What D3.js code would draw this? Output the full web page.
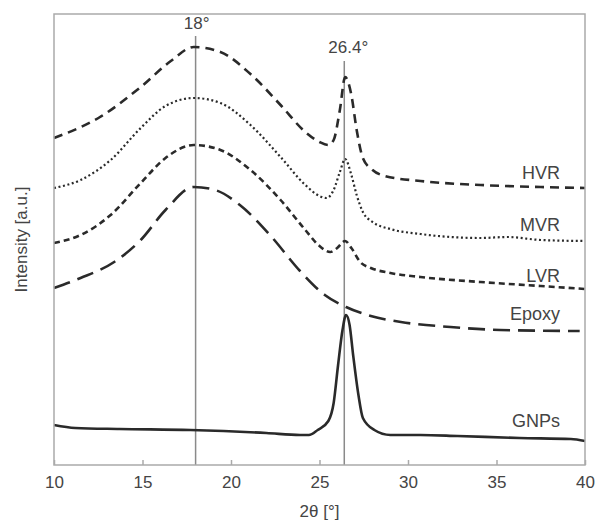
<!DOCTYPE html>
<html>
<head>
<meta charset="utf-8">
<script src="https://cdn.jsdelivr.net/npm/d3@7"></script>
<style>
  html, body { margin: 0; padding: 0; background: #fff; }
  svg { display: block; }
  text { font-family: "Liberation Sans", Arial, sans-serif; fill: #444; }
</style>
</head>
<body>
<svg id="chart" width="596" height="524"></svg>
<script>
// ---- data (2θ in degrees, intensity in arbitrary units) ----
const hvr = [[10,327],[12.6,348],[14.9,378],[16.6,404],[17.9,418],[19.4,413],[21.1,391],[22.8,360],[24.2,333],[25.0,323],[25.5,320],[25.8,325],[26.15,355],[26.45,388],[26.8,370],[27.1,335],[27.45,307],[28.0,295],[28.7,289],[30.7,284],[34.1,280],[37.5,278],[40,277]];
const mvr = [[10,277],[11.5,285],[13.2,305],[14.9,337],[16.3,359],[17.9,367],[19.4,362],[21.1,340],[22.8,308],[24.2,280],[25.0,269],[25.4,267],[25.8,275],[26.15,293],[26.45,306],[26.8,290],[27.1,270],[27.45,253],[28.0,243],[29.0,236],[30.7,231],[34.1,227],[35.6,228],[37.5,225],[40,224]];
const lvr = [[10,222],[11.5,230],[13.2,250],[14.9,282],[16.3,307],[17.9,320],[19.4,315],[21.1,295],[22.8,265],[24.2,235],[25.0,219],[25.6,213],[26.0,217],[26.45,224],[26.8,217],[27.3,203],[27.9,197],[29.0,192],[30.7,188],[34.1,183],[37.5,179],[40,176]];
const epoxy = [[10,177],[11.5,187],[13.4,203],[14.9,225],[16.3,255],[17.9,278],[19.1,275],[20.5,260],[22.2,230],[23.9,194],[25.3,170],[26.5,158],[27.9,149],[29.6,143],[32.4,138],[35.2,135],[39.7,134]];
const gnps = [[10,40],[11.2,37],[13.7,36],[17.7,35],[22.0,32],[23.9,30],[24.4,30],[24.9,35],[25.5,44],[25.8,62],[26.05,100],[26.3,135],[26.5,150],[26.7,140],[26.9,110],[27.2,70],[27.45,47],[28.1,35],[29.0,30],[30.7,30],[32.8,29],[36.3,27],[39.2,26],[40,24]];

const seriesNames = ["HVR","MVR","LVR","Epoxy","GNPs"];
const seriesData = [hvr, mvr, lvr, epoxy, gnps];
const labelLevels = [286, 234, 183, 145, 38];   // intensity level of each series label
const markerAngles = [18, 26.4];
const markerLabels = ["18°", "26.4°"];
const xTicks = [10, 15, 20, 25, 30, 35, 40];

// ---- layout ----
const svg = d3.select("#chart");
const L = 54, R = 585, T = 14, B = 465;
const x = d3.scaleLinear().domain([10, 40]).range([L, R]);
const y = d3.scaleLinear().domain([0, 451]).range([B, T]);

const dashes = ["9,6", "2,2.6", "6,4", "17,8", null];
const widths = [2.6, 2.2, 2.6, 2.6, 2.6];

// marker lines
const markerTops = [36, 61];
markerAngles.forEach((a, i) => {
  svg.append("line")
    .attr("x1", x(a)).attr("x2", x(a))
    .attr("y1", markerTops[i]).attr("y2", B)
    .attr("stroke", "#8a8a8a").attr("stroke-width", 1.5);
});
svg.append("text").attr("x", x(18) + 1).attr("y", 29)
  .attr("text-anchor", "middle").attr("font-size", 17).text(markerLabels[0]);
svg.append("text").attr("x", x(26.4) + 4).attr("y", 53)
  .attr("text-anchor", "middle").attr("font-size", 17).text(markerLabels[1]);

// curves
const line = d3.line().x(d => x(d[0])).y(d => y(d[1])).curve(d3.curveMonotoneX);
seriesData.forEach((s, i) => {
  svg.append("path")
    .attr("d", line(s))
    .attr("fill", "none")
    .attr("stroke", "#2a2a2a")
    .attr("stroke-width", widths[i])
    .attr("stroke-dasharray", dashes[i])
    .attr("stroke-linejoin", "round");
});

// frame
svg.append("rect").attr("x", L).attr("y", T).attr("width", R - L).attr("height", B - T)
  .attr("fill", "none").attr("stroke", "#aaa").attr("stroke-width", 1.5);

// x axis (ticks pointing inward)
const xAxis = d3.axisBottom(x).tickValues(xTicks).tickSize(-5).tickPadding(11).tickFormat(d3.format("d"));
const gx = svg.append("g").attr("transform", `translate(0,${B})`).call(xAxis);
gx.select(".domain").remove();
gx.selectAll(".tick line").attr("stroke", "#aaa").attr("stroke-width", 1.5);
gx.selectAll(".tick text").attr("font-size", 17).attr("fill", "#444")
  .attr("font-family", '"Liberation Sans", Arial, sans-serif');

// axis titles
svg.append("text").attr("x", (L + R) / 2).attr("y", 517).attr("text-anchor", "middle")
  .attr("font-size", 17).text("2θ [°]");
svg.append("text").attr("transform", `translate(27,${(T + B) / 2}) rotate(-90)`)
  .attr("text-anchor", "middle").attr("font-size", 17).text("Intensity [a.u.]");

// series labels
seriesNames.forEach((n, i) => {
  svg.append("text").attr("x", 560).attr("y", y(labelLevels[i]))
    .attr("text-anchor", "end").attr("font-size", 18).text(n);
});
</script>
</body>
</html>
